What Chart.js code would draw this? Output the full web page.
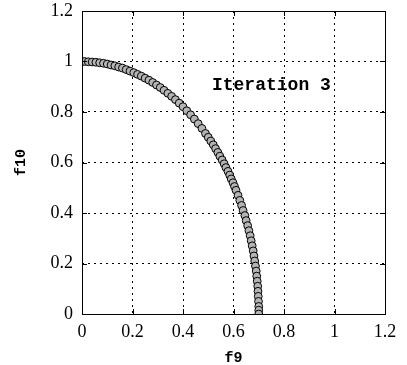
<!DOCTYPE html>
<html>
<head>
<meta charset="utf-8">
<script src="https://cdn.jsdelivr.net/npm/chart.js@4"></script>
<style>
  html, body { margin: 0; padding: 0; background: #fff; }
  #wrap { width: 407px; height: 365px; }
</style>
</head>
<body>
<div id="wrap"><canvas id="myChart"></canvas></div>
<script>
// Pareto front points
const f9 = [
  0.000, 0.010, 0.025, 0.040, 0.055, 0.070, 0.085, 0.100, 0.115, 0.130,
  0.145, 0.160, 0.175, 0.190, 0.205, 0.220, 0.235, 0.250, 0.265, 0.280,
  0.295, 0.310, 0.325, 0.340, 0.355, 0.370, 0.385, 0.400, 0.415, 0.430,
  0.445, 0.460, 0.475, 0.489, 0.500, 0.510, 0.520, 0.529, 0.538, 0.546,
  0.555, 0.563, 0.570, 0.578, 0.585, 0.591, 0.598, 0.604, 0.610, 0.618,
  0.625, 0.632, 0.638, 0.645, 0.650, 0.656, 0.661, 0.666, 0.670, 0.674,
  0.678, 0.681, 0.684, 0.687, 0.690, 0.692, 0.694, 0.696, 0.697, 0.698,
  0.699, 0.700, 0.700, 0.700
];
const f10 = [
  1.000, 1.000, 0.999, 0.998, 0.997, 0.995, 0.993, 0.990, 0.986, 0.983,
  0.978, 0.974, 0.968, 0.962, 0.956, 0.949, 0.942, 0.934, 0.926, 0.917,
  0.907, 0.897, 0.886, 0.874, 0.862, 0.849, 0.835, 0.821, 0.805, 0.789,
  0.772, 0.754, 0.735, 0.715, 0.700, 0.685, 0.670, 0.655, 0.640, 0.625,
  0.610, 0.595, 0.580, 0.565, 0.550, 0.535, 0.520, 0.505, 0.490, 0.470,
  0.450, 0.430, 0.410, 0.390, 0.370, 0.350, 0.330, 0.310, 0.290, 0.270,
  0.250, 0.230, 0.210, 0.190, 0.170, 0.150, 0.130, 0.110, 0.090, 0.070,
  0.050, 0.030, 0.015, 0.000
];
const tickValues = [0, 0.2, 0.4, 0.6, 0.8, 1, 1.2];
const tickLabels = ["0", "0.2", "0.4", "0.6", "0.8", "1", "1.2"];
const plotTitle = "Iteration 3";

const points = f9.map((x, i) => ({ x, y: f10[i] }));
const serif = "'Liberation Serif', 'Times New Roman', serif";
const mono = "'Liberation Mono', 'Courier New', monospace";

// frame, inward tick marks and the in-plot label
const framePlugin = {
  id: "frame",
  afterDatasetsDraw(chart) {
    const { ctx, chartArea: a, scales } = chart;
    ctx.save();
    ctx.strokeStyle = "#000";
    ctx.lineWidth = 1;
    ctx.beginPath();
    tickValues.forEach((v) => {
      const px = Math.round(scales.x.getPixelForValue(v)) + 0.5;
      const py = Math.round(scales.y.getPixelForValue(v)) + 0.5;
      ctx.moveTo(px, a.bottom); ctx.lineTo(px, a.bottom - 5);
      ctx.moveTo(px, a.top); ctx.lineTo(px, a.top + 5);
      ctx.moveTo(a.left, py); ctx.lineTo(a.left + 5, py);
      ctx.moveTo(a.right, py); ctx.lineTo(a.right - 5, py);
    });
    ctx.stroke();
    ctx.strokeRect(a.left + 0.5, a.top + 0.5, a.right - a.left, a.bottom - a.top);
    ctx.fillStyle = "#000";
    ctx.font = "bold 18px " + mono;
    ctx.textAlign = "center";
    ctx.textBaseline = "middle";
    ctx.fillText(plotTitle, scales.x.getPixelForValue(0.75), scales.y.getPixelForValue(0.905));
    ctx.restore();
  },
};

const tickGrid = {
  color: "#000",
  lineWidth: 1,
  drawTicks: false,
};

const pickLabel = (v) => tickLabels[tickValues.indexOf(v)];
const setTicks = (scale) => {
  scale.ticks = tickValues.map((v) => ({ value: v }));
};
// let the layout padding alone decide where the plot box sits
const dropPadding = (scale) => {
  scale.paddingTop = 0;
  scale.paddingBottom = 0;
  scale.paddingLeft = 0;
  scale.paddingRight = 0;
};

new Chart(document.getElementById("myChart"), {
  type: "scatter",
  data: {
    datasets: [
      {
        label: "front",
        data: points,
        pointRadius: 3.9,
        pointBorderWidth: 1,
        pointBackgroundColor: "#b4b4b4",
        pointBorderColor: "#000",
      },
    ],
  },
  options: {
    responsive: true,
    maintainAspectRatio: false,
    animation: false,
    layout: { padding: { top: 11, right: 22, left: 0, bottom: 0 } },
    plugins: {
      legend: { display: false },
      tooltip: { enabled: false },
    },
    scales: {
      x: {
        type: "linear",
        position: "bottom",
        min: 0,
        max: 1.2,
        border: { display: false, dash: [2, 4] },
        grid: tickGrid,
        afterBuildTicks: setTicks,
        ticks: {
          padding: 7,
          color: "#000",
          font: { family: serif, size: 18 },
          maxRotation: 0,
          callback: pickLabel,
        },
        title: {
          display: true,
          text: "f9",
          color: "#000",
          font: { family: mono, size: 15, weight: "bold" },
          padding: { top: 0, bottom: -2 },
        },
        afterFit: (scale) => {
          scale.height = 51;
          dropPadding(scale);
        },
      },
      y: {
        type: "linear",
        position: "left",
        min: 0,
        max: 1.2,
        border: { display: false, dash: [2, 4] },
        grid: tickGrid,
        afterBuildTicks: setTicks,
        ticks: {
          padding: 9,
          color: "#000",
          font: { family: serif, size: 18 },
          callback: pickLabel,
        },
        title: {
          display: true,
          text: "f10",
          color: "#000",
          font: { family: mono, size: 15, weight: "bold" },
          padding: { top: 12, bottom: 0 },
        },
        afterFit: (scale) => {
          scale.width = 82;
          dropPadding(scale);
        },
      },
    },
  },
  plugins: [framePlugin],
});
</script>
</body>
</html>
